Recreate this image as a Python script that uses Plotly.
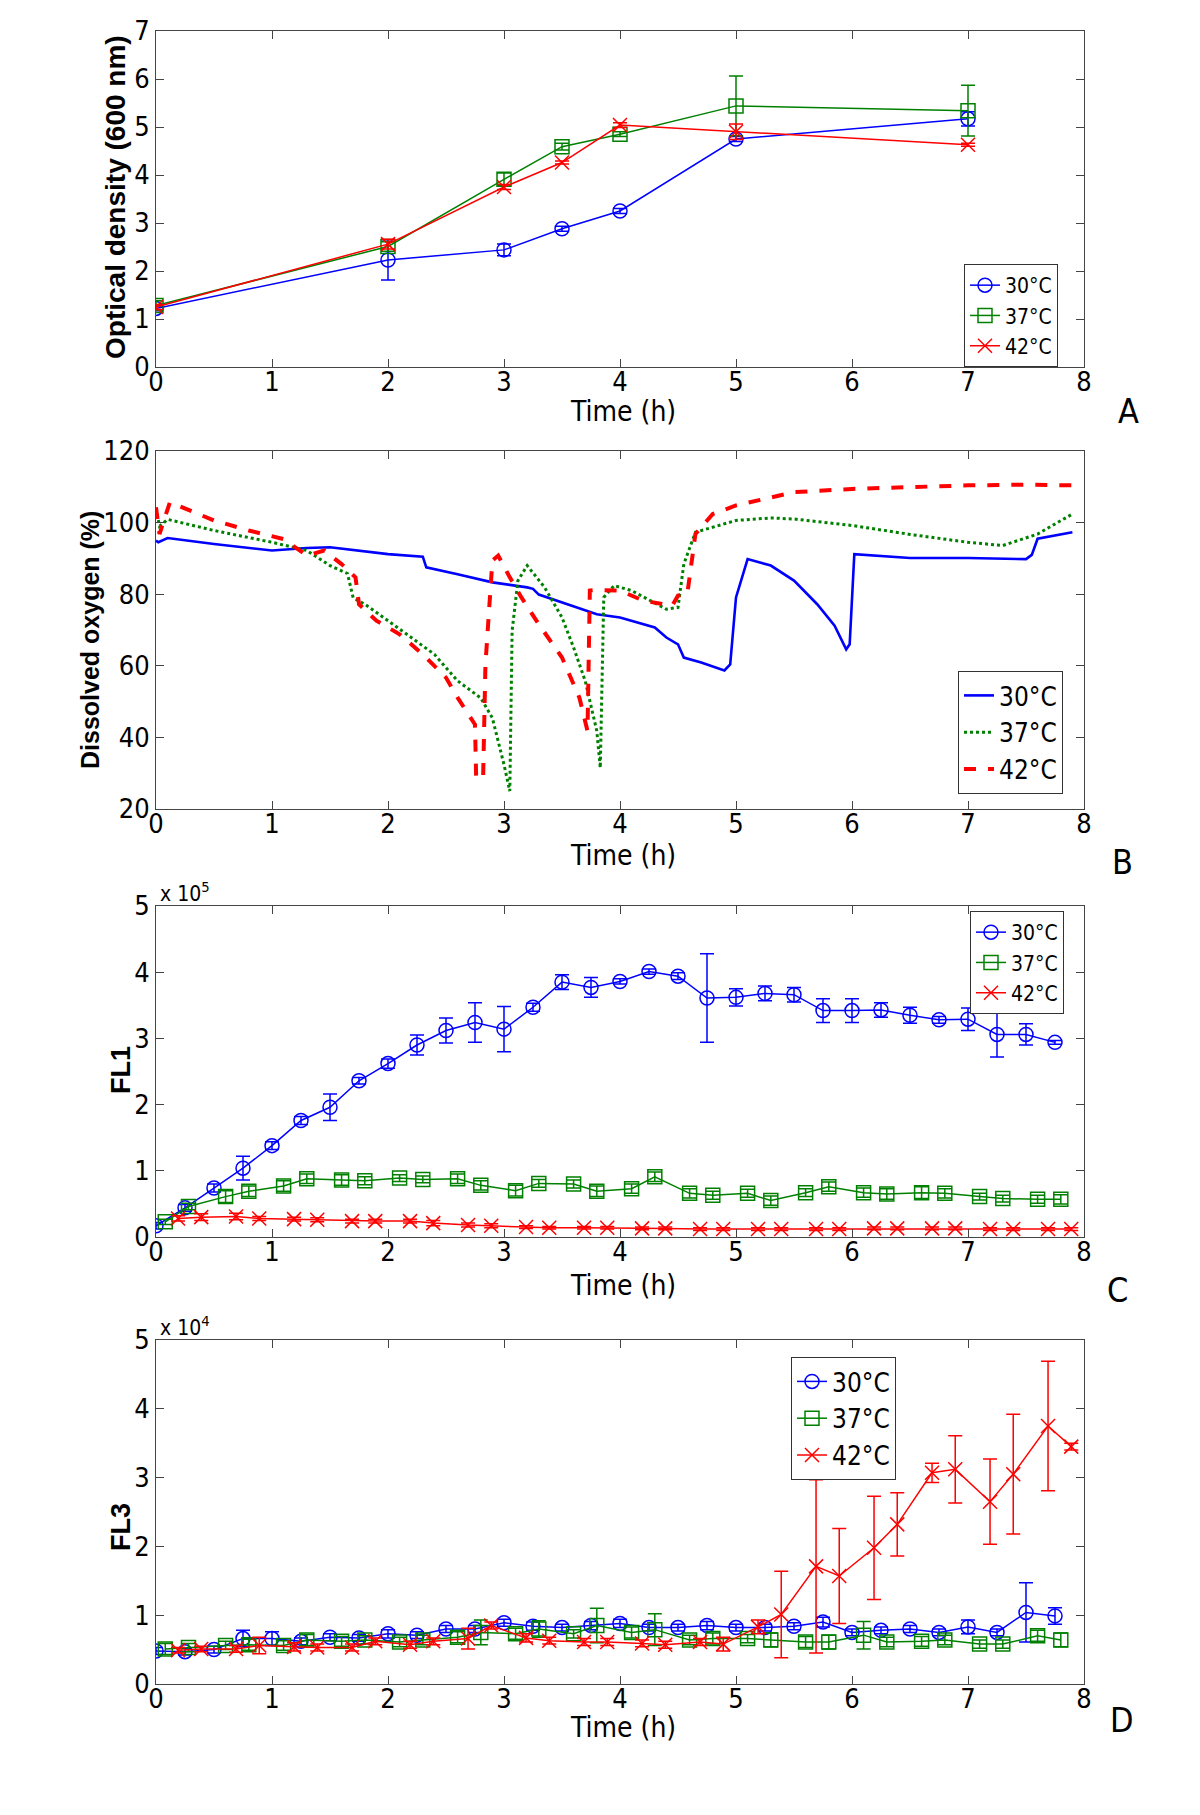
import plotly.graph_objects as go

# ---------------- Panel A : optical density ----------------
od_t = [0, 2, 3, 3.5, 4, 5, 7]
od30 = [1.22, 2.23, 2.44, 2.88, 3.25, 4.75, 5.17]
od30_err = [0.05, 0.42, 0.12, 0.05, 0.05, 0.05, 0.15]
od37 = [1.28, 2.51, 3.91, 4.59, 4.85, 5.44, 5.34]
od37_err = [0.10, 0.10, 0.13, 0.07, 0.05, 0.62, 0.53]
od42 = [1.25, 2.56, 3.75, 4.26, 5.04, 4.90, 4.63]
od42_err = [0.05, 0.10, 0.05, 0.03, 0.05, 0.16, 0.03]

# ---------------- Panel B : dissolved oxygen ----------------
do_t30 = [0, 0.02, 0.1, 0.5, 1.0, 1.3, 1.5, 1.8, 2.0, 2.3, 2.33, 2.6, 2.9, 3.2, 3.25, 3.3, 3.5,
          3.8, 4.0, 4.3, 4.4, 4.5, 4.55, 4.7, 4.9, 4.95, 5.0, 5.1, 5.3, 5.5, 5.7, 5.85, 5.95,
          5.98, 6.02, 6.2, 6.5, 7.0, 7.5, 7.55, 7.6, 7.9]
do30 = [95, 94.5, 95.7, 94, 92.2, 92.9, 93.1, 92, 91.2, 90.5, 87.5, 85.6, 83.3, 81.9, 81.5, 79.9, 77.7,
        74.4, 73.5, 70.7, 67.9, 66, 62.3, 60.9, 58.7, 60.4, 79.1, 89.8, 88, 83.8, 77.2, 71.2, 64.6,
        66, 91.2, 90.8, 90.1, 90.1, 89.8, 91, 95.5, 97.3]
do_t37 = [0, 0.03, 0.1, 0.5, 1.0, 1.3, 1.5, 1.65, 1.7, 1.8, 2.0, 2.2, 2.4, 2.6, 2.8, 2.9, 3.0, 3.05,
          3.07, 3.12, 3.2, 3.35, 3.5, 3.6, 3.7, 3.8, 3.83, 3.86, 3.95, 4.1, 4.4, 4.5, 4.55, 4.65,
          5.0, 5.3, 5.5, 6.0, 6.5, 7.0, 7.3, 7.6, 7.9]
do37 = [104, 99, 100.9, 97.8, 94.5, 92.2, 88, 85.8, 79, 77.2, 72.6, 67.9, 63.2, 55.8, 51, 45.4, 32.4, 25,
        69.8, 83.8, 88, 81.9, 73.5, 65.1, 55.8, 41.8, 31.5, 79.1, 82.4, 81, 75.8, 76.3, 88.4, 97.3,
        100.6, 101.3, 101, 99.2, 96.7, 94.5, 93.6, 96.8, 102.4]
do_t42 = [0, 0.03, 0.12, 0.5, 0.8, 1.1, 1.3, 1.45, 1.6, 1.72, 1.75, 1.9, 2.1, 2.3, 2.5, 2.6, 2.75,
          2.76, 2.82, 2.84, 2.9, 2.95, 3.05, 3.15, 3.3, 3.5, 3.65, 3.72, 3.74, 3.8, 4.0, 4.2, 4.45,
          4.5, 4.58, 4.65, 4.8, 5.0, 5.5, 6.0, 6.5, 7.0, 7.5, 7.9]
do42 = [104.3, 96.8, 105.7, 100.6, 97.8, 95.4, 90.8, 92.2, 88.4, 84.7, 77.2, 72.6, 68.8, 63.2, 56.7,
        51.1, 43.6, 28.7, 28.7, 60.4, 89.4, 90.8, 84.7, 79.1, 71.6, 62.3, 51.1, 41.8, 81, 81.2, 81,
        78.2, 76.8, 79.6, 80, 96.8, 102.4, 104.8, 108.5, 109.4, 109.9, 110.4, 110.6, 110.4]

# ---------------- sampling times for flow cytometry ----------------
fc_t30 = [0, 0.25, 0.5, 0.75, 1, 1.25, 1.5, 1.75, 2, 2.25, 2.5, 2.75, 3, 3.25, 3.5, 3.75,
          4, 4.25, 4.5, 4.75, 5, 5.25, 5.5, 5.75, 6, 6.25, 6.5, 6.75, 7, 7.25, 7.5, 7.75]
fc_t37 = [0.08, 0.28, 0.6, 0.8, 1.1, 1.3, 1.6, 1.8, 2.1, 2.3, 2.6, 2.8, 3.1, 3.3, 3.6, 3.8,
          4.1, 4.3, 4.6, 4.8, 5.1, 5.3, 5.6, 5.8, 6.1, 6.3, 6.6, 6.8, 7.1, 7.3, 7.6, 7.8]
fc_t42 = [0.19, 0.39, 0.69, 0.89, 1.19, 1.39, 1.69, 1.89, 2.19, 2.39, 2.69, 2.89, 3.19, 3.39, 3.69, 3.89,
          4.19, 4.39, 4.69, 4.89, 5.19, 5.39, 5.69, 5.89, 6.19, 6.39, 6.69, 6.89, 7.19, 7.39, 7.69, 7.89]

# ---------------- Panel C : FL1 (x 10^5) ----------------
fl1_30 = [0.17, 0.44, 0.74, 1.04, 1.38, 1.76, 1.96, 2.36, 2.62, 2.90, 3.12, 3.24, 3.14, 3.47, 3.85, 3.77,
          3.86, 4.01, 3.94, 3.61, 3.62, 3.68, 3.66, 3.42, 3.42, 3.43, 3.35, 3.28, 3.29, 3.06, 3.06, 2.94]
fl1_30_err = [0.05, 0.05, 0.06, 0.18, 0.06, 0.06, 0.20, 0.05, 0.07, 0.15, 0.19, 0.30, 0.34, 0.06, 0.11, 0.15,
              0.04, 0.04, 0.05, 0.67, 0.13, 0.11, 0.11, 0.18, 0.18, 0.11, 0.12, 0.05, 0.17, 0.34, 0.16, 0.03]
fl1_37 = [0.23, 0.46, 0.61, 0.69, 0.77, 0.88, 0.86, 0.85, 0.89, 0.87, 0.88, 0.78, 0.70, 0.81, 0.80, 0.69,
          0.73, 0.91, 0.66, 0.63, 0.66, 0.55, 0.67, 0.76, 0.67, 0.65, 0.67, 0.66, 0.61, 0.58, 0.57, 0.57]
fl1_37_err = [0.04, 0.05, 0.09, 0.08, 0.08, 0.07, 0.08, 0.06, 0.05, 0.05, 0.07, 0.07, 0.08, 0.06, 0.06, 0.08,
              0.07, 0.07, 0.07, 0.06, 0.06, 0.07, 0.06, 0.07, 0.07, 0.08, 0.09, 0.07, 0.05, 0.05, 0.06, 0.07]
fl1_42 = [0.28, 0.30, 0.31, 0.28, 0.27, 0.26, 0.24, 0.24, 0.24, 0.21, 0.18, 0.17, 0.15, 0.14, 0.14, 0.14,
          0.13, 0.13, 0.12, 0.12, 0.12, 0.12, 0.12, 0.12, 0.13, 0.13, 0.13, 0.13, 0.12, 0.12, 0.12, 0.12]
fl1_42_err = [0.04, 0.05, 0.05, 0.03, 0.03, 0.03, 0.03, 0.03, 0.03, 0.04, 0.03, 0.03, 0.02, 0.02, 0.02, 0.02,
              0.02, 0.02, 0.02, 0.02, 0.02, 0.02, 0.02, 0.02, 0.02, 0.02, 0.02, 0.02, 0.02, 0.02, 0.02, 0.02]

# ---------------- Panel D : FL3 (x 10^4) ----------------
fl3_30 = [0.48, 0.47, 0.50, 0.66, 0.66, 0.62, 0.68, 0.67, 0.73, 0.71, 0.80, 0.80, 0.89, 0.84, 0.82, 0.85,
          0.88, 0.82, 0.82, 0.85, 0.82, 0.82, 0.84, 0.90, 0.75, 0.78, 0.80, 0.75, 0.83, 0.75, 1.04, 0.99]
fl3_30_err = [0.05, 0.05, 0.05, 0.12, 0.10, 0.05, 0.05, 0.05, 0.06, 0.05, 0.05, 0.05, 0.05, 0.06, 0.05, 0.06,
              0.06, 0.05, 0.05, 0.06, 0.05, 0.05, 0.05, 0.07, 0.05, 0.05, 0.05, 0.05, 0.10, 0.05, 0.43, 0.12]
fl3_37 = [0.51, 0.53, 0.56, 0.57, 0.56, 0.64, 0.62, 0.64, 0.61, 0.64, 0.68, 0.75, 0.73, 0.80, 0.73, 0.85,
          0.75, 0.79, 0.64, 0.66, 0.66, 0.64, 0.61, 0.61, 0.71, 0.61, 0.62, 0.64, 0.58, 0.58, 0.70, 0.64]
fl3_37_err = [0.08, 0.06, 0.06, 0.08, 0.07, 0.08, 0.07, 0.06, 0.07, 0.07, 0.08, 0.18, 0.08, 0.12, 0.06, 0.25,
              0.08, 0.23, 0.07, 0.08, 0.06, 0.10, 0.08, 0.10, 0.20, 0.07, 0.07, 0.07, 0.06, 0.06, 0.08, 0.10]
fl3_42 = [0.49, 0.51, 0.51, 0.56, 0.54, 0.53, 0.53, 0.62, 0.57, 0.62, 0.66, 0.85, 0.67, 0.63, 0.61, 0.61,
          0.59, 0.57, 0.61, 0.58, 0.83, 1.01, 1.71, 1.57, 1.98, 2.32, 3.07, 3.12, 2.65, 3.05, 3.75, 3.45]
fl3_42_err = [0.04, 0.04, 0.05, 0.12, 0.06, 0.05, 0.05, 0.05, 0.05, 0.05, 0.15, 0.05, 0.06, 0.05, 0.05, 0.05,
              0.05, 0.05, 0.05, 0.10, 0.10, 0.63, 1.26, 0.69, 0.75, 0.46, 0.14, 0.49, 0.62, 0.87, 0.94, 0.05]

labels = ["30°C", "37°C", "42°C"]
colors = ["#0000ff", "#008000", "#ff0000"]
symbols = ["circle-open", "square-open", "x-thin-open"]

NARROW = "Liberation Sans Narrow, Arial Narrow, DejaVu Sans Condensed, Liberation Sans, Arial, sans-serif"
BOLD = "Liberation Sans, Arial, sans-serif"

W, H = 1200, 1815
OFF = 8  # page body margin offset
XL, XR = 156 - OFF, 1084 - OFF
panels = {  # top, bottom in screen pixels
    1: (31, 367),
    2: (451, 809),
    3: (906, 1237),
    4: (1340, 1684),
}


def px(x):
    return (x - OFF) / W


def py(y):
    return 1 - (y - OFF) / H


fig = go.Figure()


def add_err_trace(x, y, e, i, axis, legend, msize=14):
    fig.add_trace(go.Scatter(
        x=x, y=y, mode="lines+markers", name=labels[i],
        line=dict(color=colors[i], width=1.5),
        marker=dict(symbol=symbols[i], size=msize, color=colors[i],
                    line=dict(color=colors[i], width=1.5)),
        error_y=dict(type="data", array=e, visible=True, color=colors[i],
                     thickness=1.5, width=7),
        xaxis="x" + axis, yaxis="y" + axis, legend=legend,
    ))


# Panel A
for i, (yv, ev) in enumerate([(od30, od30_err), (od37, od37_err), (od42, od42_err)]):
    add_err_trace(od_t, yv, ev, i, "", "legend")

# Panel B
for i, (tv, yv, dash, w) in enumerate([(do_t30, do30, "solid", 2.6),
                                        (do_t37, do37, "dot", 3.0),
                                        (do_t42, do42, "dash", 4.0)]):
    fig.add_trace(go.Scatter(
        x=tv, y=yv, mode="lines", name=labels[i],
        line=dict(color=colors[i], width=w, dash=dash),
        xaxis="x2", yaxis="y2", legend="legend2",
    ))

# Panel C
for i, (tv, yv, ev) in enumerate([(fc_t30, fl1_30, fl1_30_err), (fc_t37, fl1_37, fl1_37_err),
                                  (fc_t42, fl1_42, fl1_42_err)]):
    add_err_trace(tv, yv, ev, i, "3", "legend3")

# Panel D
for i, (tv, yv, ev) in enumerate([(fc_t30, fl3_30, fl3_30_err), (fc_t37, fl3_37, fl3_37_err),
                                  (fc_t42, fl3_42, fl3_42_err)]):
    add_err_trace(tv, yv, ev, i, "4", "legend4")


def ax_common(rng, dtick):
    return dict(range=rng, dtick=dtick, tick0=rng[0], ticks="inside", ticklen=8,
                tickcolor="#444", showline=True, linecolor="#444", linewidth=1,
                mirror="ticks", showgrid=False, zeroline=False, automargin=False,
                tickfont=dict(family=NARROW, size=27, color="black"))


xdom = [XL / W, XR / W]
layout = dict(width=W, height=H, margin=dict(l=0, r=0, t=0, b=0, pad=0),
              paper_bgcolor="white", plot_bgcolor="white", showlegend=True)
yranges = {1: ([0, 7], 1), 2: ([20, 120], 20), 3: ([0, 5], 1), 4: ([0, 5], 1)}
for k, (top, bot) in panels.items():
    suffix = "" if k == 1 else str(k)
    xa = ax_common([0, 8], 1)
    xa["domain"] = xdom
    xa["ticklabelstandoff"] = -9
    if k > 1:
        xa["anchor"] = "y" + suffix
    ya = ax_common(*yranges[k])
    ya["domain"] = [py(bot), py(top)]
    if k > 1:
        ya["anchor"] = "x" + suffix
    layout["xaxis" + suffix] = xa
    layout["yaxis" + suffix] = ya


def legend_box(x_px, y_px, fsize):
    return dict(x=px(x_px), y=py(y_px), xanchor="left", yanchor="top",
                bgcolor="white", bordercolor="#333", borderwidth=1,
                font=dict(family=NARROW, size=fsize, color="black"),
                itemwidth=30, tracegroupgap=0)


layout["legend"] = legend_box(964, 264, 21)
layout["legend2"] = legend_box(958, 671, 26)
layout["legend3"] = legend_box(970, 911, 21)
layout["legend4"] = legend_box(791, 1357, 26)

fig.update_layout(**layout)

ann = []
# y titles
for text, xp, yp, size in [("Optical density (600 nm)", 116, 197, 28),
                           ("Dissolved oxygen (%)", 90, 640, 25),
                           ("FL1", 121, 1070, 27),
                           ("FL3", 121, 1527, 27)]:
    ann.append(dict(text="<b>" + text + "</b>", x=px(xp), y=py(yp), xref="paper", yref="paper",
                    textangle=-90, showarrow=False, xanchor="center", yanchor="middle",
                    font=dict(family=BOLD, size=size, color="black")))
# x titles
for yp in [412, 855, 1285, 1727]:
    ann.append(dict(text="Time (h)", x=px(623), y=py(yp), xref="paper", yref="paper",
                    showarrow=False, xanchor="center", yanchor="middle",
                    font=dict(family=NARROW, size=28, color="black")))
# panel letters
for letter, xp, yp in [("A", 1128, 411), ("B", 1122, 862), ("C", 1117, 1290), ("D", 1122, 1720)]:
    ann.append(dict(text=letter, x=px(xp), y=py(yp), xref="paper", yref="paper",
                    showarrow=False, xanchor="center", yanchor="middle",
                    font=dict(family=NARROW, size=34, color="black")))
# multipliers
for text, yp in [("x 10<sup>5</sup>", 892), ("x 10<sup>4</sup>", 1326)]:
    ann.append(dict(text=text, x=px(XL + OFF + 2), y=py(yp), xref="paper", yref="paper",
                    showarrow=False, xanchor="left", yanchor="middle",
                    font=dict(family=NARROW, size=21, color="black")))
fig.update_layout(annotations=ann)

fig.write_html("out.html")
